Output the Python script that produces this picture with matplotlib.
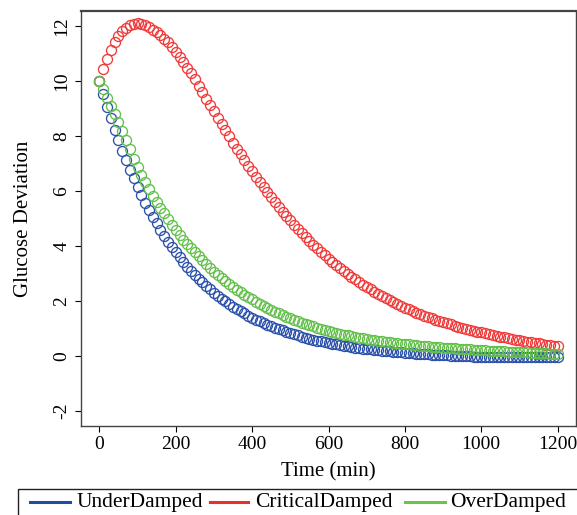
import matplotlib
matplotlib.use("Agg")
import matplotlib.pyplot as plt
from matplotlib.lines import Line2D
from matplotlib.patches import Rectangle

plt.rcParams['font.family'] = ['Liberation Serif', 'DejaVu Serif']
plt.rcParams['axes.unicode_minus'] = False

# time points (min), one every 10 min
time_min = list(range(0, 1201, 10))

under_damped = [
    10.00, 9.53, 9.08, 8.65, 8.24, 7.85, 7.47, 7.12, 6.78, 6.46,
    6.15, 5.86, 5.58, 5.31, 5.06, 4.82, 4.59, 4.37, 4.16, 3.96,
    3.77, 3.59, 3.42, 3.25, 3.10, 2.95, 2.81, 2.67, 2.54, 2.42,
    2.30, 2.19, 2.08, 1.98, 1.88, 1.79, 1.70, 1.62, 1.54, 1.46,
    1.39, 1.32, 1.25, 1.19, 1.13, 1.07, 1.02, 0.97, 0.92, 0.87,
    0.83, 0.78, 0.74, 0.70, 0.66, 0.62, 0.59, 0.55, 0.52, 0.49,
    0.46, 0.43, 0.41, 0.38, 0.36, 0.34, 0.32, 0.30, 0.28, 0.26,
    0.24, 0.23, 0.21, 0.20, 0.18, 0.17, 0.16, 0.14, 0.13, 0.12,
    0.11, 0.10, 0.09, 0.08, 0.07, 0.06, 0.05, 0.04, 0.03, 0.03,
    0.02, 0.01, 0.00, 0.00, -0.01, -0.01, -0.02, -0.02, -0.03, -0.03,
    -0.04, -0.04, -0.05, -0.05, -0.05, -0.05, -0.06, -0.06, -0.06, -0.06,
    -0.06, -0.06, -0.06, -0.05, -0.05, -0.05, -0.05, -0.05, -0.04, -0.04,
    -0.04,
]

critical_damped = [
    10.00, 10.45, 10.82, 11.15, 11.42, 11.64, 11.82, 11.95, 12.04, 12.10,
    12.12, 12.10, 12.05, 11.97, 11.88, 11.78, 11.68, 11.55, 11.42, 11.25,
    11.08, 10.90, 10.71, 10.50, 10.29, 10.07, 9.84, 9.61, 9.37, 9.14,
    8.90, 8.67, 8.44, 8.21, 7.99, 7.76, 7.55, 7.34, 7.13, 6.92,
    6.72, 6.52, 6.33, 6.14, 5.95, 5.77, 5.59, 5.42, 5.25, 5.09,
    4.93, 4.77, 4.62, 4.47, 4.33, 4.19, 4.05, 3.92, 3.79, 3.66,
    3.54, 3.42, 3.31, 3.20, 3.09, 2.98, 2.88, 2.78, 2.69, 2.59,
    2.50, 2.42, 2.33, 2.25, 2.17, 2.10, 2.02, 1.95, 1.88, 1.82,
    1.75, 1.69, 1.63, 1.57, 1.52, 1.46, 1.41, 1.36, 1.31, 1.27,
    1.22, 1.18, 1.14, 1.10, 1.06, 1.02, 0.98, 0.95, 0.91, 0.88,
    0.85, 0.82, 0.79, 0.76, 0.73, 0.70, 0.67, 0.64, 0.61, 0.59,
    0.56, 0.54, 0.51, 0.49, 0.47, 0.45, 0.42, 0.40, 0.38, 0.36,
    0.34,
]

over_damped = [
    10.00, 9.70, 9.40, 9.10, 8.80, 8.50, 8.18, 7.85, 7.52, 7.18,
    6.88, 6.60, 6.32, 6.06, 5.82, 5.60, 5.40, 5.19, 4.98, 4.78,
    4.58, 4.40, 4.23, 4.07, 3.92, 3.77, 3.63, 3.48, 3.35, 3.20,
    3.05, 2.93, 2.82, 2.71, 2.61, 2.51, 2.41, 2.31, 2.22, 2.13,
    2.05, 1.97, 1.89, 1.81, 1.74, 1.67, 1.60, 1.54, 1.48, 1.42,
    1.36, 1.31, 1.26, 1.21, 1.16, 1.11, 1.07, 1.02, 0.98, 0.94,
    0.90, 0.87, 0.83, 0.80, 0.77, 0.74, 0.71, 0.68, 0.66, 0.63,
    0.61, 0.59, 0.57, 0.55, 0.53, 0.51, 0.49, 0.47, 0.45, 0.44,
    0.42, 0.41, 0.39, 0.38, 0.36, 0.35, 0.34, 0.33, 0.32, 0.31,
    0.30, 0.29, 0.28, 0.27, 0.26, 0.25, 0.24, 0.23, 0.22, 0.21,
    0.20, 0.20, 0.19, 0.18, 0.17, 0.17, 0.16, 0.15, 0.15, 0.14,
    0.13, 0.13, 0.12, 0.11, 0.11, 0.10, 0.09, 0.09, 0.08, 0.07,
    0.07,
]

series_names = ["UnderDamped", "CriticalDamped", "OverDamped"]
series_colors = ["#2a50aa", "#f03a3a", "#62c04a"]
legend_colors = ["#1f4e9e", "#e8302f", "#6cc24a"]

W, H = 577.0, 515.0


def fx(px):
    return px / W


def fy(py):
    return 1 - py / H


def main():
    fig = plt.figure(figsize=(5.77, 5.15), dpi=100)
    ax = fig.add_axes([fx(81), fy(426), 495 / W, 415 / H])

    for vals, col in zip([under_damped, critical_damped, over_damped], series_colors):
        ax.plot(time_min, vals, linestyle='none', marker='o', markersize=7.2,
                markerfacecolor='none', markeredgecolor=col, markeredgewidth=0.95)

    ax.set_xlim(-48, 1248)
    ax.set_ylim(-2.56, 12.56)
    ax.set_xticks(range(0, 1201, 200))
    ax.set_yticks(range(-2, 13, 2))
    ax.tick_params(axis='both', direction='out', length=4.5, width=0.8,
                   labelsize=14, pad=3)
    ax.tick_params(axis='y', labelrotation=90)
    for lab in ax.get_yticklabels():
        lab.set_va('center')
    for sp in ax.spines.values():
        sp.set_color('#444444')
        sp.set_linewidth(1.0)
    ax.spines['top'].set_linewidth(1.6)

    ax.set_xlabel("Time (min)", fontsize=15, labelpad=6)
    ax.set_ylabel("Glucose Deviation", fontsize=15, labelpad=15)

    # legend strip along the bottom, running off the figure edge like the original
    fig.patches.append(Rectangle((fx(18), fy(540)), 1.0, (540 - 489) / H,
                                 transform=fig.transFigure, fill=False,
                                 edgecolor='#222222', linewidth=1.0))
    line_x = [(30, 70), (210, 248), (405, 445)]
    text_x = [77, 255, 450]
    for (x0, x1), tx, name, col in zip(line_x, text_x, series_names, legend_colors):
        fig.lines.append(Line2D([fx(x0), fx(x1)], [fy(502), fy(502)],
                                transform=fig.transFigure, color=col, lw=2.2))
        fig.text(fx(tx), fy(502), name, fontsize=15.5, va='center', ha='left')

    plt.savefig('out.png', dpi=100)
    plt.close()


if __name__ == '__main__':
    main()
